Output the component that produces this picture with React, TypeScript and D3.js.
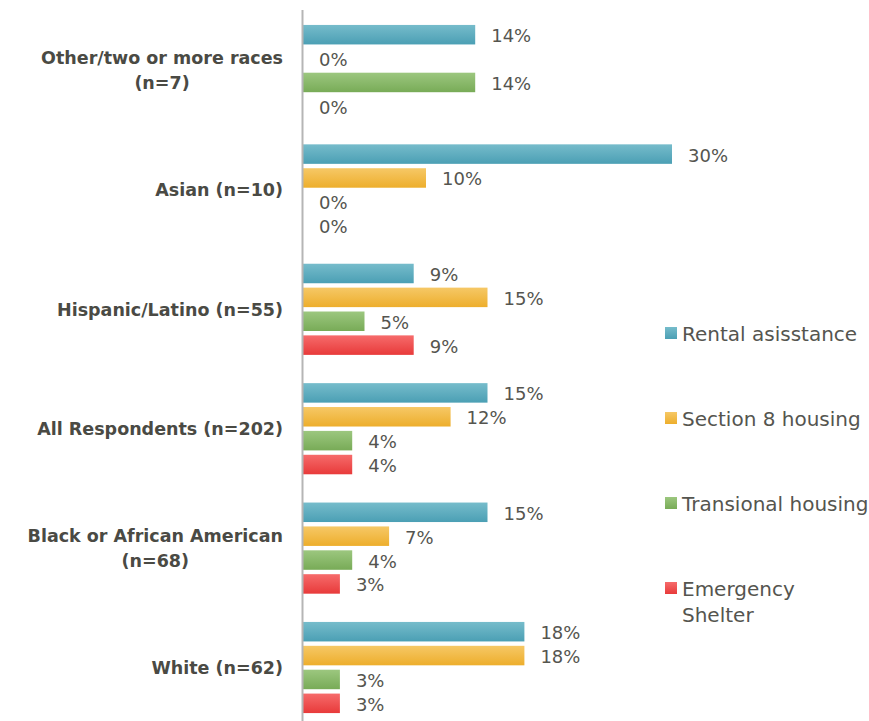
import React from "react";
import * as d3 from "d3";

const categories = [
  ["Other/two or more races", "(n=7)"],
  ["Asian (n=10)"],
  ["Hispanic/Latino (n=55)"],
  ["All Respondents (n=202)"],
  ["Black or African American", "(n=68)"],
  ["White (n=62)"],
];
const seriesNames = ["Rental asisstance", "Section 8 housing", "Transional housing", "Emergency Shelter"];
const rental = [14, 30, 9, 15, 15, 18];
const section8 = [0, 10, 15, 12, 7, 18];
const transitional = [14, 0, 5, 4, 4, 3];
const emergency = [0, 0, 9, 4, 3, 3];
const seriesValues = [rental, section8, transitional, emergency];

const colorsTop = ["#76bccb", "#f6c866", "#9cc77f", "#f66b6b"];
const colorsBottom = ["#4b9fb4", "#edae2c", "#78ab57", "#e83a3a"];

const W = 869;
const H = 721;
const FONT = "'DejaVu Sans', sans-serif";
const TEXT = "#55554f";

function measure(text: string, font: string) {
  if (typeof document === "undefined") return text.length * 10;
  const c = document.createElement("canvas");
  const ctx = c.getContext("2d")!;
  ctx.font = font;
  return ctx.measureText(text).width;
}

export default function App() {
  const x = d3.scaleLinear().domain([0, 30]).range([303, 672]);
  const y = d3
    .scaleBand<number>()
    .domain(d3.range(categories.length))
    .range([13, 13 + 119.4 * categories.length]);
  const slot = y.bandwidth() / 5;
  const barH = 19.5;
  const labelRight = 283;
  const catSize = 17.5;

  return (
    <svg width={W} height={H} style={{ position: "absolute", left: 0, top: 0, fontFamily: FONT }}>
      <defs>
        {colorsTop.map((c, i) => (
          <linearGradient key={i} id={`g${i}`} x1="0" y1="0" x2="0" y2="1">
            <stop offset="0%" stopColor={c} />
            <stop offset="100%" stopColor={colorsBottom[i]} />
          </linearGradient>
        ))}
      </defs>
      <rect x={0} y={0} width={W} height={H} fill="#ffffff" />
      {categories.map((lines, gi) => {
        const g0 = y(gi)!;
        return (
          <g key={gi}>
            {seriesValues.map((vals, si) => {
              const yy = g0 + slot * 0.5 + si * slot;
              const v = vals[gi];
              return (
                <g key={si}>
                  {v > 0 && (
                    <rect x={x(0)} y={yy} width={x(v) - x(0)} height={barH} fill={`url(#g${si})`} />
                  )}
                  <text
                    x={x(v) + 16}
                    y={yy + barH / 2 + 1}
                    dominantBaseline="central"
                    fontSize={18}
                    fill={TEXT}
                  >
                    {`${v}%`}
                  </text>
                </g>
              );
            })}
            {(() => {
              const cy = g0 + y.bandwidth() / 2 - 2;
              const font = `bold ${catSize}px ${FONT}`;
              const widths = lines.map((l) => measure(l, font));
              const maxW = Math.max(...widths);
              const cx = labelRight - maxW / 2;
              const lh = 25;
              return lines.map((l, li) => (
                <text
                  key={li}
                  x={cx}
                  y={cy + (li - (lines.length - 1) / 2) * lh}
                  textAnchor="middle"
                  dominantBaseline="central"
                  fontSize={catSize}
                  fontWeight="bold"
                  fill="#4a4a44"
                >
                  {l}
                </text>
              ));
            })()}
          </g>
        );
      })}
      <line x1={302.5} x2={302.5} y1={10} y2={H} stroke="#b5b5b5" strokeWidth={2} />
      {seriesNames.map((name, i) => {
        const ly = 333 + i * 85;
        const words = i === 3 ? ["Emergency", "Shelter"] : [name];
        return (
          <g key={i}>
            <rect x={665} y={ly - 6} width={12} height={12} fill={`url(#g${i})`} />
            {words.map((w, wi) => (
              <text
                key={wi}
                x={682}
                y={ly + wi * 26 + 1}
                dominantBaseline="central"
                fontSize={20}
                fill={TEXT}
              >
                {w}
              </text>
            ))}
          </g>
        );
      })}
    </svg>
  );
}
